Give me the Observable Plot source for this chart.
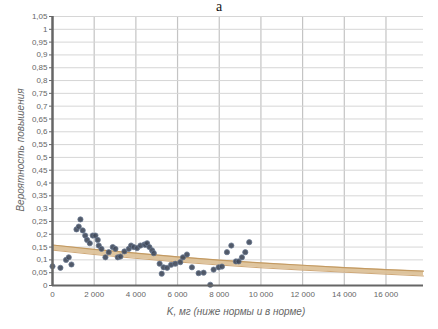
<!DOCTYPE html>
<html><head><meta charset="utf-8">
<script src="https://cdn.jsdelivr.net/npm/d3@7"></script>
<script src="https://cdn.jsdelivr.net/npm/@observablehq/plot@0.6"></script>
<style>body{margin:0;background:#fff}#c{width:438px;height:329px}</style>
</head><body><div id="c"></div>
<script>
const title = "a";
const xLabel = "K, мг (ниже нормы и в норме)";
const yLabel = "Вероятность повышения";
const xTicks = [0, 2000, 4000, 6000, 8000, 10000, 12000, 14000, 16000];
const yTicks = [0,0.05,0.1,0.15,0.2,0.25,0.3,0.35,0.4,0.45,0.5,0.55,0.6,0.65,0.7,0.75,0.8,0.85,0.9,0.95,1,1.05];
const pointK = [0,380,650,780,910,1150,1260,1340,1450,1570,1660,1790,1930,2060,2170,2220,2350,2540,2700,2890,3020,3130,3260,3450,3660,3770,3900,4060,4220,4410,4460,4540,4650,4780,4860,5140,5240,5330,5500,5690,5890,6130,6260,6450,6690,7010,7250,7570,7730,7970,8130,8370,8580,8800,8930,9090,9250,9440];
const pointP = [0.075,0.069,0.10,0.11,0.082,0.219,0.23,0.258,0.215,0.195,0.178,0.165,0.195,0.195,0.178,0.156,0.143,0.11,0.13,0.15,0.143,0.11,0.113,0.133,0.143,0.156,0.15,0.146,0.156,0.16,0.159,0.165,0.15,0.137,0.126,0.085,0.046,0.071,0.069,0.081,0.085,0.091,0.11,0.121,0.071,0.048,0.05,0.003,0.062,0.071,0.074,0.13,0.156,0.094,0.094,0.11,0.13,0.169];
const trendK = [0,2000,4000,6000,8000,10000,12000,14000,16000,17800];
const trendLow = [0.138,0.121,0.106,0.092,0.080,0.069,0.060,0.052,0.044,0.037];
const trendHigh = [0.158,0.141,0.126,0.112,0.099,0.088,0.079,0.070,0.062,0.056];

const pts = pointK.map((k,i)=>({k, p: pointP[i]}));
const band = trendK.map((k,i)=>({k, lo: trendLow[i], hi: trendHigh[i]}));
const fmtY = d => d === 0 ? "0" : d3.format(".2~f")(d).replace(".", ",");
const fmtX = d => d === 0 ? "0" : d3.format(",")(d).replace(/,/g, " ");

const chart = Plot.plot({
  width: 438, height: 329,
  marginLeft: 52, marginRight: 15, marginTop: 16, marginBottom: 44,
  style: {fontFamily: "Liberation Sans, Arial, sans-serif", fontSize: "8px", color: "#666", background: "#fff"},
  x: {domain: [0, 17800], ticks: xTicks, tickFormat: fmtX, tickSize: 0, tickPadding: 6, label: null},
  y: {domain: [0, 1.05], ticks: yTicks, tickFormat: fmtY, tickSize: 3, tickPadding: 2, label: null},
  marks: [
    Plot.gridX(xTicks.slice(1), {stroke: "#c4c4c4", strokeOpacity: 1, strokeWidth: 1.2}),
    Plot.gridY(yTicks.slice(1), {stroke: "#d6d6d6", strokeOpacity: 1, strokeWidth: 1}),
    Plot.areaY(band, {x: "k", y1: "lo", y2: "hi", fill: "#dcbf94", fillOpacity: 0.9}),
    Plot.line(band, {x: "k", y: "hi", stroke: "#c39a62", strokeWidth: 1.2}),
    Plot.line(band, {x: "k", y: "lo", stroke: "#cfa877", strokeWidth: 1}),
    Plot.dot(pts, {x: "k", y: "p", r: 2.6, fill: "#3f4859", fillOpacity: 0.9, stroke: "#6a7890", strokeWidth: 0.8}),
    Plot.ruleY([0], {stroke: "#666", strokeWidth: 2}),
    Plot.ruleX([0], {stroke: "#666", strokeWidth: 2.5}),
    Plot.axisX({ticks: xTicks, tickFormat: fmtX, tickSize: 0, tickPadding: 6, label: null}),
    Plot.axisY({ticks: yTicks, tickFormat: fmtY, tickSize: 3, tickPadding: 2, label: null})
  ]
});
const svg = d3.select(chart);
svg.append("text").attr("x", 219).attr("y", 11).attr("text-anchor", "middle")
  .attr("font-family", "Liberation Serif, Times New Roman, serif").attr("font-size", 14).attr("fill", "#111").text(title);
svg.append("text").attr("x", 236).attr("y", 315).attr("text-anchor", "middle")
  .attr("font-style", "italic").attr("font-size", 10).attr("fill", "#666").text(xLabel);
svg.append("text").attr("transform", "translate(24,150) rotate(-90)").attr("text-anchor", "middle")
  .attr("font-style", "italic").attr("font-size", 10).attr("fill", "#666").text(yLabel);
document.getElementById("c").appendChild(chart);
</script>
</body></html>
